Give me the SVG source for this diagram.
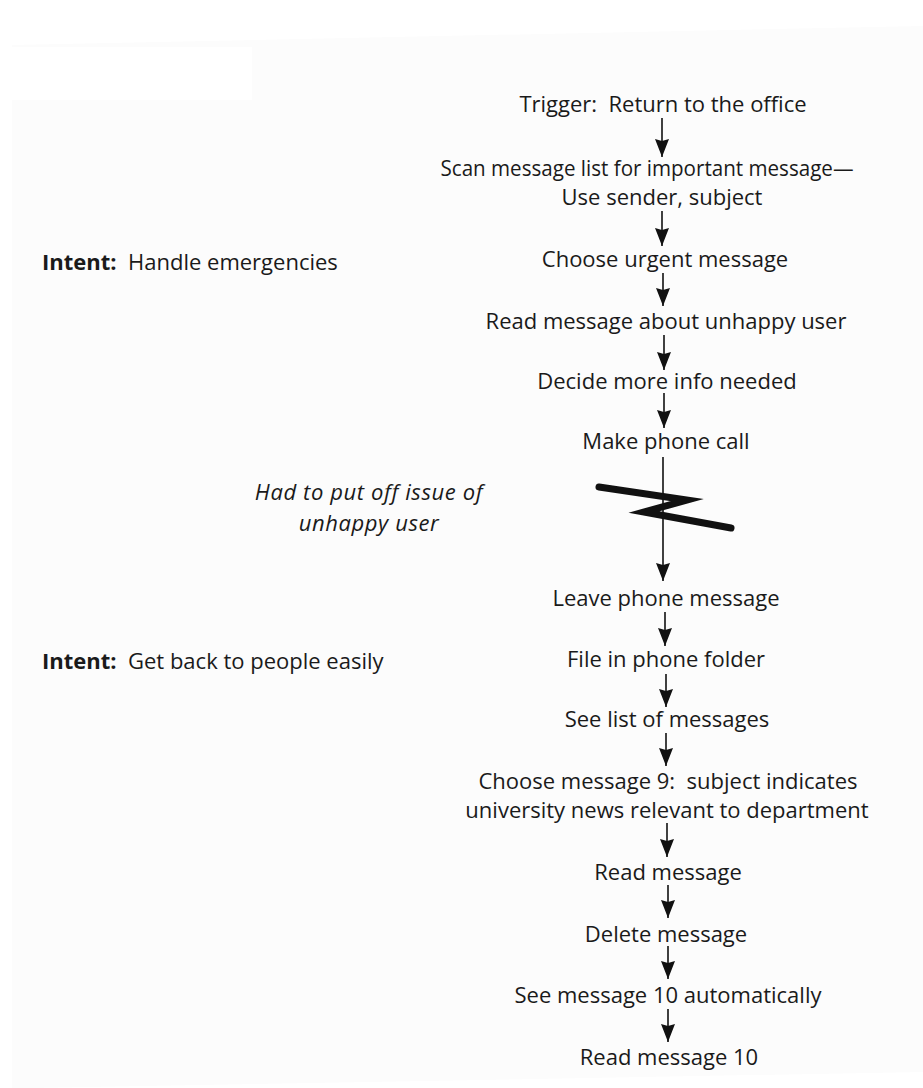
<svg xmlns="http://www.w3.org/2000/svg" width="923" height="1088" viewBox="0 0 923 1088">
<defs>
<style>
text{white-space:pre}
.t{font-family:"Open Sans","Noto Sans","Liberation Sans",sans-serif;font-size:22px;fill:#1a1a1a;text-anchor:middle}
.l{font-family:"Open Sans","Noto Sans","Liberation Sans",sans-serif;font-size:22px;fill:#1a1a1a}
.b{font-weight:bold}
.i{font-style:italic;letter-spacing:0.6px}
.c{stroke:#111;stroke-width:1.6;fill:none;marker-end:url(#ah)}
</style>
<marker id="ah" markerUnits="userSpaceOnUse" markerWidth="20" markerHeight="16" viewBox="0 0 20 16" refX="19" refY="8" orient="auto">
<path d="M1,1 L3,8 L1,15 L19,8 Z" fill="#111"/>
</marker>
</defs>
<rect width="923" height="1088" fill="#ffffff"/>
<polygon points="12,45 923,26 923,1072 30,1088 12,1088" fill="#fcfcfc"/>
<rect x="10" y="47" width="242" height="53" fill="#ffffff"/>
<g id="connectors">
<line class="c" x1="662" y1="118" x2="662" y2="157"/>
<line class="c" x1="662" y1="211" x2="662" y2="246"/>
<line class="c" x1="663" y1="273" x2="663" y2="306"/>
<line class="c" x1="664" y1="335" x2="664" y2="370"/>
<line class="c" x1="664" y1="393" x2="664" y2="428"/>
<line class="c" x1="663" y1="457" x2="663" y2="581"/>
<line class="c" x1="665" y1="612" x2="665" y2="646"/>
<line class="c" x1="666" y1="674" x2="666" y2="707"/>
<line class="c" x1="666" y1="733" x2="666" y2="766"/>
<line class="c" x1="667" y1="823" x2="667" y2="857"/>
<line class="c" x1="668" y1="885" x2="668" y2="918"/>
<line class="c" x1="668" y1="946" x2="668" y2="979"/>
<line class="c" x1="668" y1="1009" x2="668" y2="1042"/>
</g>
<g id="interruption">
<polyline points="599,487 687,500 644,512 731,528" fill="none" stroke="#111" stroke-width="7" stroke-linecap="round" stroke-linejoin="miter" stroke-miterlimit="10"/>
</g>
<g id="n-trigger"><text class="t" x="663" y="112">Trigger:  Return to the office</text></g>
<g id="n-scan"><text class="t" x="647" y="176" textLength="413" lengthAdjust="spacingAndGlyphs">Scan message list for important message—</text><text class="t" x="662" y="205">Use sender, subject</text></g>
<g id="n-choose-urgent"><text class="t" x="665" y="267">Choose urgent message</text></g>
<g id="n-read-unhappy"><text class="t" x="666" y="329">Read message about unhappy user</text></g>
<g id="n-decide"><text class="t" x="667" y="389">Decide more info needed</text></g>
<g id="n-phone-call"><text class="t" x="666" y="449">Make phone call</text></g>
<g id="n-leave"><text class="t" x="666" y="606">Leave phone message</text></g>
<g id="n-file"><text class="t" x="666" y="667">File in phone folder</text></g>
<g id="n-see-list"><text class="t" x="667" y="727">See list of messages</text></g>
<g id="n-choose-9"><text class="t" x="668" y="789">Choose message 9:  subject indicates</text><text class="t" x="667" y="818">university news relevant to department</text></g>
<g id="n-read"><text class="t" x="668" y="880">Read message</text></g>
<g id="n-delete"><text class="t" x="666" y="942">Delete message</text></g>
<g id="n-see-10"><text class="t" x="668" y="1003">See message 10 automatically</text></g>
<g id="n-read-10"><text class="t" x="669" y="1065">Read message 10</text></g>
<g id="intent-1"><text class="l" x="42" y="270"><tspan class="b">Intent:</tspan>  Handle emergencies</text></g>
<g id="intent-2"><text class="l" x="42" y="669"><tspan class="b">Intent:</tspan>  Get back to people easily</text></g>
<g id="note"><text class="t i" x="369" y="500">Had to put off issue of</text><text class="t i" x="369" y="531">unhappy user</text></g>
</svg>
